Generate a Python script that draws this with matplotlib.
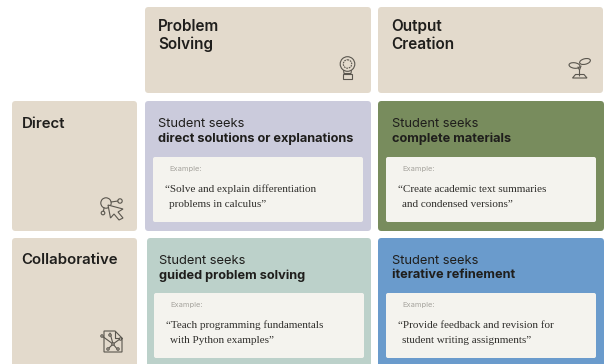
import matplotlib
matplotlib.use("Agg")
import matplotlib.pyplot as plt
from matplotlib.patches import FancyBboxPatch, Circle, Polygon, Ellipse, Rectangle

columns = ["Problem\nSolving", "Output\nCreation"]
rows = ["Direct", "Collaborative"]
lead = "Student seeks"
seeks = ["direct solutions or explanations", "complete materials",
         "guided problem solving", "iterative refinement"]
examples = ["“Solve and explain differentiation", "“Create academic text summaries",
            "“Teach programming fundamentals", "“Provide feedback and revision for"]
examples2 = ["problems in calculus”", "and condensed versions”",
             "with Python examples”", "student writing assignments”"]
cell_colors = ["#cbcbdc", "#788c5d", "#bcd1ca", "#6a9bcc"]
CARD = "#e3dacc"
PAPER = "#f4f3ee"
INK = "#1f1e1c"
SANS = "Inter"
SERIF = "Liberation Serif"
ICON = "#5a564e"

fig = plt.figure(figsize=(6.05, 3.64), dpi=100)
ax = fig.add_axes([0, 0, 1, 1])
ax.set_xlim(0, 605)
ax.set_ylim(364, 0)
ax.axis("off")


def card(x0, y0, x1, y1, color, r=3.5):
    ax.add_patch(FancyBboxPatch((x0 + r, y0 + r), x1 - x0 - 2 * r, y1 - y0 - 2 * r,
                                boxstyle=f"round,pad={r},rounding_size={r}",
                                fc=color, ec="none", zorder=1))


# header cards
header_boxes = [(145, 7, 371, 93), (378, 7, 603, 93)]
for (x0, y0, x1, y1), name in zip(header_boxes, columns):
    a, b = name.split("\n")
    for text, y in ((a, 26.5), (b, 44.5)):
        ax.text(x0 + 13, y, text, family=SANS, fontsize=11, weight="semibold",
                color=INK, va="center", ha="left", zorder=3)

# row label cards
row_boxes = [(12, 101, 137, 231), (12, 238, 137, 372)]
for (x0, y0, x1, y1), name in zip(row_boxes, rows):
    ax.text(x0 + 9.5, y0 + 22.5, name, family=SANS, fontsize=10.8, weight="semibold",
            color=INK, va="center", ha="left", zorder=3)

for b in header_boxes + row_boxes:
    card(*b, CARD)

# quadrant cards
cell_boxes = [(145, 101, 371, 231), (378, 101, 604, 231),
              (147, 238, 371, 372), (378, 238, 604, 372)]
paper_boxes = [(153, 157, 363, 222), (386, 157, 596, 222),
               (154, 293, 364, 358), (386, 293, 596, 358)]
text_left = [158, 392, 159, 392]
for i in range(4):
    box, pb = cell_boxes[i], paper_boxes[i]
    card(*box, cell_colors[i])
    card(*pb, PAPER, r=2)
    tx = text_left[i]
    ax.text(tx, box[1] + 23, lead, family=SANS, fontsize=9.3, weight="normal",
            color=INK, va="center", ha="left", zorder=3)
    ax.text(tx, box[1] + 37.5, seeks[i], family=SANS, fontsize=9.2, weight="bold",
            color=INK, va="center", ha="left", zorder=3)
    ax.text(pb[0] + 16, pb[1] + 12, "Example:", family=SANS, fontsize=5.4,
            color="#a5a39d", va="center", ha="left", zorder=3)
    ax.text(pb[0] + 12, pb[1] + 32, examples[i], family=SERIF, fontsize=8,
            color="#2f2e2b", va="center", ha="left", zorder=3)
    ax.text(pb[0] + 16, pb[1] + 47.5, examples2[i], family=SERIF, fontsize=8,
            color="#2f2e2b", va="center", ha="left", zorder=3)

lw = 0.8
kw = dict(fc="none", ec=ICON, lw=lw, zorder=3)
lk = dict(color=ICON, lw=lw, zorder=3, solid_capstyle="round")

# bulb icon
ax.add_patch(Polygon([(343.5, 69.5), (351.5, 69.5), (351, 73.5), (344, 73.5)], **kw))
ax.add_patch(Circle((347.5, 64), 7.3, fc=CARD, ec=ICON, lw=lw, zorder=3))
ax.add_patch(Circle((347.5, 64), 4.2, fc="none", ec=ICON, lw=lw, ls=(0, (1.5, 0.8)), zorder=3))
ax.add_patch(Rectangle((343, 73.5), 9, 5.5, **kw))

# sprout icon
ax.plot([579.5, 579.5, 581], [76, 70, 66], **lk)
ax.plot([579.5, 578], [70, 67], **lk)
ax.add_patch(Ellipse((574.5, 65.5), 11, 5.5, angle=8, **kw))
ax.add_patch(Ellipse((585, 61.5), 11, 5.5, angle=-14, **kw))
ax.add_patch(Polygon([(572.5, 78), (587, 78), (584, 74.5), (575.5, 74.5)], **kw))

# cursor icon
ax.add_patch(Circle((106, 203), 5.2, **kw))
ax.add_patch(Circle((120, 201), 2.2, **kw))
ax.add_patch(Circle((103, 213), 1.8, **kw))
ax.plot([111, 118], [202, 201], **lk)
ax.plot([104, 103.5], [208, 211], **lk)
ax.add_patch(Polygon([(108, 205), (123, 209), (118, 212), (123, 218), (119, 220),
                      (114, 214), (110.5, 218)], fc=CARD, ec=ICON, lw=lw, zorder=4))

# document-network icon
ax.add_patch(Polygon([(104, 331), (115, 331), (122, 338), (122, 352), (104, 352)], **kw))
ax.plot([115, 115, 122], [331, 338, 338], **lk)
ax.plot([102, 113, 120], [336, 344, 339], **lk)
ax.plot([110, 113, 118], [333, 344, 350], **lk)
ax.plot([113, 108], [344, 349], **lk)
for cx, cy in [(102, 336), (110, 335), (120.5, 339), (113, 344), (108, 349), (118, 349)]:
    ax.add_patch(Circle((cx, cy), 1.2, fc=CARD, ec=ICON, lw=lw, zorder=4))

fig.savefig("out.png", dpi=100, facecolor="white")
